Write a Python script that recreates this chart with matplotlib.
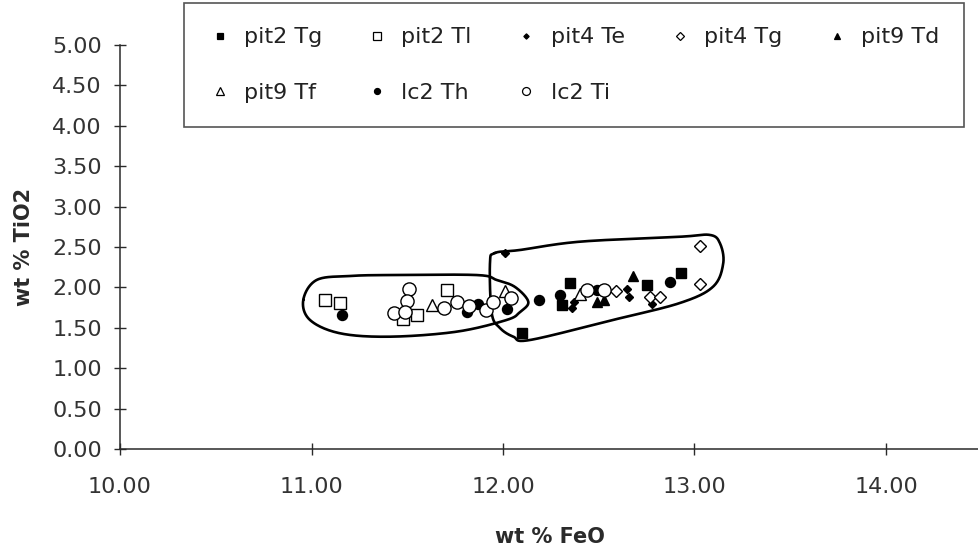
import numpy as np
import matplotlib
matplotlib.use("Agg")
import matplotlib.pyplot as plt
from matplotlib.lines import Line2D

plt.rcParams['font.family'] = ['DejaVu Sans']

# FeO / TiO2 (wt %) for each sample group
pit2_tg_x = [12.10, 12.35, 12.31, 12.75, 12.93]
pit2_tg_y = [1.43, 2.06, 1.78, 2.03, 2.18]

pit2_tl_x = [11.07, 11.15, 11.48, 11.55, 11.71]
pit2_tl_y = [1.85, 1.81, 1.61, 1.66, 1.97]

pit4_te_x = [12.01, 12.37, 12.65, 12.66, 12.78, 11.83, 12.36]
pit4_te_y = [2.42, 1.82, 1.98, 1.88, 1.80, 1.79, 1.74]

pit4_tg_x = [12.59, 12.77, 12.82, 13.03, 13.03]
pit4_tg_y = [1.96, 1.88, 1.88, 2.51, 2.04]

pit9_td_x = [12.49, 12.68, 12.53]
pit9_td_y = [1.82, 2.14, 1.84]

pit9_tf_x = [11.63, 12.01, 12.40]
pit9_tf_y = [1.78, 1.95, 1.92]

lc2_th_x = [11.16, 11.81, 11.87, 12.02, 12.19, 12.30, 12.49, 12.87]
lc2_th_y = [1.66, 1.69, 1.80, 1.73, 1.84, 1.90, 1.97, 2.07]

lc2_ti_x = [11.51, 11.50, 11.43, 11.49, 11.69, 11.76, 11.82, 11.91, 11.95, 12.04, 12.44, 12.53]
lc2_ti_y = [1.98, 1.83, 1.68, 1.70, 1.74, 1.82, 1.77, 1.72, 1.82, 1.87, 1.97, 1.97]

# hand-drawn grouping outlines (data coordinates)
group_a_x = [10.957, 11.027, 11.201, 11.41, 11.862, 11.967, 12.063, 12.132,
             12.089, 12.019, 11.758, 11.41, 11.149, 10.992]
group_a_y = [1.844, 2.092, 2.141, 2.153, 2.153, 2.092, 2.005, 1.823,
             1.696, 1.597, 1.452, 1.39, 1.432, 1.597]

group_b_x = [11.958, 11.932, 11.941, 11.984, 12.054, 12.141, 12.574, 12.924,
             13.097, 13.15, 13.133, 13.081, 12.924, 12.402, 12.089]
group_b_y = [2.426, 2.302, 1.683, 1.498, 1.39, 1.349, 1.597, 1.807,
             2.009, 2.298, 2.546, 2.649, 2.627, 2.566, 2.463]

x_ticks = [10.0, 11.0, 12.0, 13.0, 14.0]
y_ticks = [0.0, 0.5, 1.0, 1.5, 2.0, 2.5, 3.0, 3.5, 4.0, 4.5, 5.0]


def closed_spline(xs, ys, n=30):
    """Closed Catmull-Rom curve through the given points."""
    p = np.column_stack([xs, ys])
    m = len(p)
    out = []
    for i in range(m):
        p0, p1, p2, p3 = p[(i - 1) % m], p[i], p[(i + 1) % m], p[(i + 2) % m]
        t = np.linspace(0, 1, n, endpoint=False)[:, None]
        seg = 0.5 * ((2 * p1) + (-p0 + p2) * t + (2 * p0 - 5 * p1 + 4 * p2 - p3) * t ** 2
                     + (-p0 + 3 * p1 - 3 * p2 + p3) * t ** 3)
        out.append(seg)
    out.append(p[:1])
    out = np.vstack(out)
    return out[:, 0], out[:, 1]


W, H = 979, 552
ink = '#2a2a2a'
fig = plt.figure(figsize=(W / 100, H / 100), dpi=100)
ax = fig.add_axes([120 / W, (H - 449) / H, (W - 120) / W, (449 - 45) / H])

ax.set_xlim(10.0, 10.0 + (W - 120) / 191.5)
ax.set_ylim(0.0, 5.0)

for gx, gy in [(group_a_x, group_a_y), (group_b_x, group_b_y)]:
    sx, sy = closed_spline(gx, gy)
    ax.plot(sx, sy, color='black', lw=1.9, zorder=2, solid_capstyle='round')

series = [
    (pit2_tg_x, pit2_tg_y, 's', 7.5, 'black', 'pit2 Tg'),
    (pit2_tl_x, pit2_tl_y, 's', 8.5, 'white', 'pit2 Tl'),
    (pit4_te_x, pit4_te_y, 'D', 4.5, 'black', 'pit4 Te'),
    (pit4_tg_x, pit4_tg_y, 'D', 6.5, 'white', 'pit4 Tg'),
    (pit9_td_x, pit9_td_y, '^', 7.5, 'black', 'pit9 Td'),
    (pit9_tf_x, pit9_tf_y, '^', 8.5, 'white', 'pit9 Tf'),
    (lc2_th_x, lc2_th_y, 'o', 7.2, 'black', 'lc2 Th'),
    (lc2_ti_x, lc2_ti_y, 'o', 9.5, 'white', 'lc2 Ti'),
]

handles = {}
for xs, ys, mk, ms, fc, lab in series:
    ax.plot(xs, ys, ls='none', marker=mk, ms=ms, mfc=fc, mec='black', mew=1.0, zorder=3)
    handles[lab] = Line2D([], [], ls='none', marker=mk, ms=ms * 0.6, mfc=fc,
                          mec='black', mew=0.9)

for side in ['top', 'right']:
    ax.spines[side].set_visible(False)
for side in ['left', 'bottom']:
    ax.spines[side].set_linewidth(1.1)
    ax.spines[side].set_color(ink)

ax.set_xticks(x_ticks)
ax.set_yticks(y_ticks)
ax.set_xticklabels([f"{v:.2f}" for v in x_ticks])
ax.set_yticklabels([f"{v:.2f}" for v in y_ticks])
ax.tick_params(axis='both', direction='inout', length=8, width=1.0, color=ink,
               labelsize=16, labelcolor='#333333')
ax.tick_params(axis='y', pad=9)
ax.tick_params(axis='x', pad=16)

ax.set_xlabel('wt % FeO', fontsize=15, fontweight='bold', labelpad=22, color=ink)
ax.set_ylabel('wt % TiO2', fontsize=15, fontweight='bold', labelpad=13, color=ink)

# legend filled row by row
order = ['pit2 Tg', 'pit9 Tf', 'pit2 Tl', 'lc2 Th', 'pit4 Te', 'lc2 Ti', 'pit4 Tg', 'pit9 Td']
leg = fig.legend([handles[k] for k in order], order, loc='upper left',
                 bbox_to_anchor=(184 / W, 1 - 3 / H, 780 / W, 0), mode='expand',
                 ncol=5, fontsize=16, frameon=True, fancybox=False, edgecolor=ink,
                 borderpad=1.1, labelspacing=1.6, handlelength=1.0, handletextpad=0.6,
                 borderaxespad=0.0)
leg.get_frame().set_linewidth(1.2)
for t in leg.get_texts():
    t.set_color('#222222')

fig.savefig('out.png', dpi=100)
